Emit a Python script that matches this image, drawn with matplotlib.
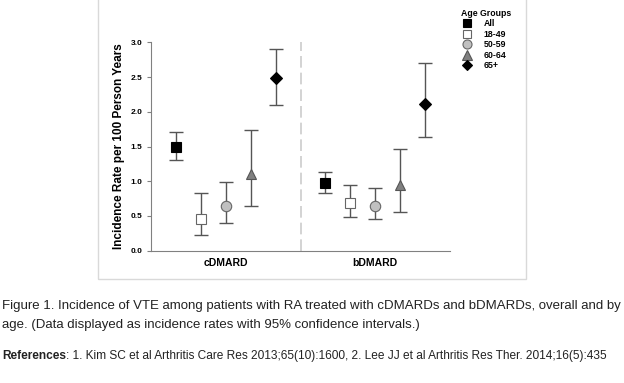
import numpy as np
import matplotlib as mpl
import matplotlib.pyplot as plt
from matplotlib.patches import Rectangle
from matplotlib.lines import Line2D

mpl.rcParams["font.family"] = "Liberation Sans"

TREATMENTS = ["cDMARD", "bDMARD"]
GROUPS = ["All", "18-49", "50-59", "60-64", "65+"]

# incidence rate per 100 PY, with 95% CI
CDMARD_RATE = [1.49, 0.46, 0.65, 1.11, 2.48]
CDMARD_LO = [1.30, 0.23, 0.40, 0.65, 2.10]
CDMARD_HI = [1.71, 0.83, 0.99, 1.74, 2.90]

BDMARD_RATE = [0.98, 0.69, 0.65, 0.95, 2.11]
BDMARD_LO = [0.83, 0.48, 0.46, 0.56, 1.63]
BDMARD_HI = [1.14, 0.95, 0.90, 1.46, 2.70]

MARKERS = ["s", "s", "o", "^", "D"]
FACES = ["black", "white", "#c0c0c0", "#808080", "black"]
EDGES = ["black", "#666666", "#666666", "#555555", "black"]
SIZES = [7, 7, 7.5, 7.5, 6.5]

W, H = 624, 383
fig = plt.figure(figsize=(W / 100, H / 100), dpi=100)

# light frame round the chart
fig.patches.append(Rectangle((98 / W, 1 - 279 / H), (526 - 98) / W, 279 / H + 0.01,
                             transform=fig.transFigure, fill=False,
                             edgecolor="#d9d9d9", lw=1))

ax = fig.add_axes([151 / W, 1 - 250.7 / H, (450 - 151) / W, (250.7 - 42.3) / H])
ax.set_xlim(0, 2)
ax.set_ylim(0, 3)

offsets = (np.arange(len(GROUPS)) - 2) / 6
series = [(CDMARD_RATE, CDMARD_LO, CDMARD_HI), (BDMARD_RATE, BDMARD_LO, BDMARD_HI)]
for t, (rate, lo, hi) in enumerate(series):
    for g in range(len(GROUPS)):
        xpos = t + 0.5 + offsets[g]
        ax.errorbar(xpos, rate[g], yerr=[[rate[g] - lo[g]], [hi[g] - rate[g]]],
                    fmt="none", ecolor="#555555", elinewidth=1, capsize=5,
                    capthick=1, zorder=2)
        ax.plot(xpos, rate[g], marker=MARKERS[g], ms=SIZES[g], mfc=FACES[g],
                mec=EDGES[g], mew=0.8, ls="none", zorder=3)

ax.axvline(1, color="#cccccc", lw=1.2, ls=(0, (7, 3)), zorder=1)

for s in ["top", "right"]:
    ax.spines[s].set_visible(False)
for s in ["left", "bottom"]:
    ax.spines[s].set_color("#808080")
ax.set_yticks(np.arange(0, 3.01, 0.5))
ax.set_yticklabels([f"{v:.1f}" for v in np.arange(0, 3.01, 0.5)],
                   fontsize=6, fontweight="bold")
ax.tick_params(axis="y", length=3, color="#808080", pad=3)
ax.set_xticks([0.5, 1.5])
ax.set_xticklabels(TREATMENTS, fontsize=7.5, fontweight="bold")
ax.tick_params(axis="x", length=0, pad=5)
ax.set_ylabel("Incidence Rate per 100 Person Years", fontsize=8.5,
              fontweight="bold", labelpad=4)

# legend
handles = [Line2D([], [], marker=MARKERS[g], ms=SIZES[g] - 1, mfc=FACES[g],
                  mec=EDGES[g], mew=0.8, ls="none") for g in range(len(GROUPS))]
leg = fig.legend(handles, GROUPS, title="Age Groups", loc="upper left",
                 bbox_to_anchor=(458 / W, 1 - 5 / H), frameon=False,
                 prop={"size": 6.3, "weight": "bold"}, handletextpad=1.2,
                 labelspacing=0.18, handlelength=1.3, borderaxespad=0)
leg.get_title().set_fontsize(6.3)
leg.get_title().set_fontweight("bold")
leg._legend_box.align = "left"

# caption
cap = dict(family="Liberation Sans", color="#222222", va="baseline")
fig.text(2 / W, 1 - 309 / H,
         "Figure 1. Incidence of VTE among patients with RA treated with cDMARDs and bDMARDs, overall and by",
         fontsize=9.55, **cap)
fig.text(2 / W, 1 - 328 / H,
         "age. (Data displayed as incidence rates with 95% confidence intervals.)",
         fontsize=9.55, **cap)
ref = fig.text(2 / W, 1 - 359 / H, "References", fontweight="bold", fontsize=8.55, **cap)
fig.canvas.draw()
bb = ref.get_window_extent()
fig.text(bb.x1 / W, 1 - 359 / H,
         ": 1. Kim SC et al Arthritis Care Res 2013;65(10):1600, 2. Lee JJ et al Arthritis Res Ther. 2014;16(5):435",
         fontsize=8.55, **cap)

fig.savefig("out.png", dpi=100)
